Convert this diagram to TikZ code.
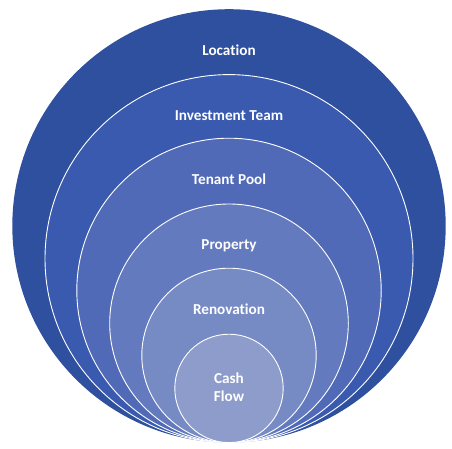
\documentclass[tikz,border=0pt]{standalone}
\usepackage{fontspec}
\setmainfont{Carlito}[Ligatures={NoCommon}]
\usepackage{tikz}
\usetikzlibrary{positioning}
\definecolor{ringA}{RGB}{46,80,158}
\definecolor{ringB}{RGB}{57,90,175}
\definecolor{ringC}{RGB}{80,106,183}
\definecolor{ringD}{RGB}{100,122,190}
\definecolor{ringE}{RGB}{118,138,196}
\definecolor{ringF}{RGB}{142,156,204}
\tikzstyle{ring} = [circle, inner sep=0pt, outer sep=0pt, draw=white, line width=0.9pt, anchor=south]
\tikzstyle{lbl} = [text=white, font=\bfseries\fontsize{15.2}{18}\selectfont, align=center]

\begin{document}
\begin{tikzpicture}[x=1pt, y=-1pt]
\useasboundingbox (0,0) rectangle (452,449);
\coordinate (base) at (229,442.6);
\node (location) [ring, fill=ringA, draw=none, minimum size=433.4pt] at (base) {};
\node (team) [ring, fill=ringB, minimum size=368pt] at (base) {};
\node (tenant) [ring, fill=ringC, minimum size=304.4pt] at (base) {};
\node (property) [ring, fill=ringD, minimum size=238.6pt] at (base) {};
\node (renovation) [ring, fill=ringE, minimum size=174.4pt] at (base) {};
\node (cashflow) [ring, fill=ringF, minimum size=108.4pt] at (base) {};

\node (locationtext) [lbl] at ([yshift=-41.5pt]location.north) {Location};
\node (teamtext) [lbl] at ([yshift=-41pt]team.north) {Investment Team};
\node (tenanttext) [lbl] at ([yshift=-41pt]tenant.north) {Tenant Pool};
\node (propertytext) [lbl] at ([yshift=-41.5pt]property.north) {Property};
\node (renovationtext) [lbl] at ([yshift=-41.5pt]renovation.north) {Renovation};
\node (cashflowtext) [lbl] at ([yshift=1.5pt]cashflow.center) {Cash\\Flow};
\end{tikzpicture}
\end{document}
